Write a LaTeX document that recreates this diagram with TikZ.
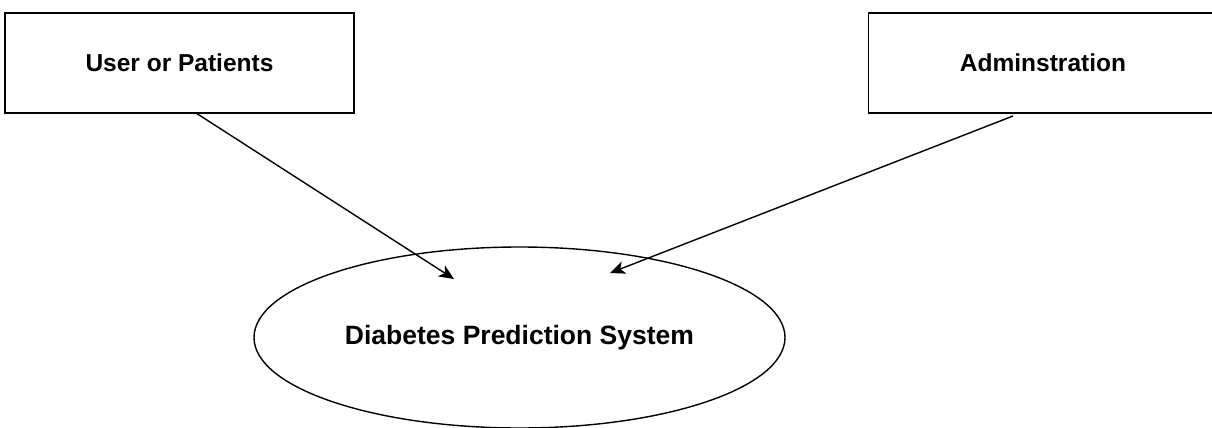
\documentclass[tikz,border=0pt]{standalone}
\usepackage{fontspec}
\setmainfont{Liberation Sans}
\usetikzlibrary{arrows.meta,shapes.geometric}
\begin{document}
\begin{tikzpicture}[x=1pt,y=-1pt,
  line width=1.4pt,
  actor/.style={draw, rectangle, minimum width=349pt, minimum height=100pt,
    font=\fontsize{24.5}{28}\selectfont\bfseries, inner sep=0pt},
  usecase/.style={draw, ellipse, minimum width=531pt, minimum height=181pt,
    font=\fontsize{26.5}{30}\selectfont\bfseries, inner sep=0pt},
  flow/.style={-{Stealth[length=15pt, width=13pt, inset=4pt]}, line width=1.4pt}]
  \useasboundingbox (0,0) rectangle (1212,428);
  \clip (0,0) rectangle (1212,428);
  \fill[white] (0,0) rectangle (1212,428);

  \node[actor] (user) at (179.5,63) {User or Patients};
  \node[actor] (admin) at (1043,63) {Adminstration};
  \node[usecase] (dps) at (519.5,337.5) {Diabetes Prediction System};

  \coordinate (user-out) at (196,113);
  \coordinate (admin-out) at (1013,116);
  \coordinate (dps-in-left) at (454,279);
  \coordinate (dps-in-right) at (610,273);

  \draw[flow] (user-out) -- (dps-in-left);
  \draw[flow] (admin-out) -- (dps-in-right);
\end{tikzpicture}
\end{document}
